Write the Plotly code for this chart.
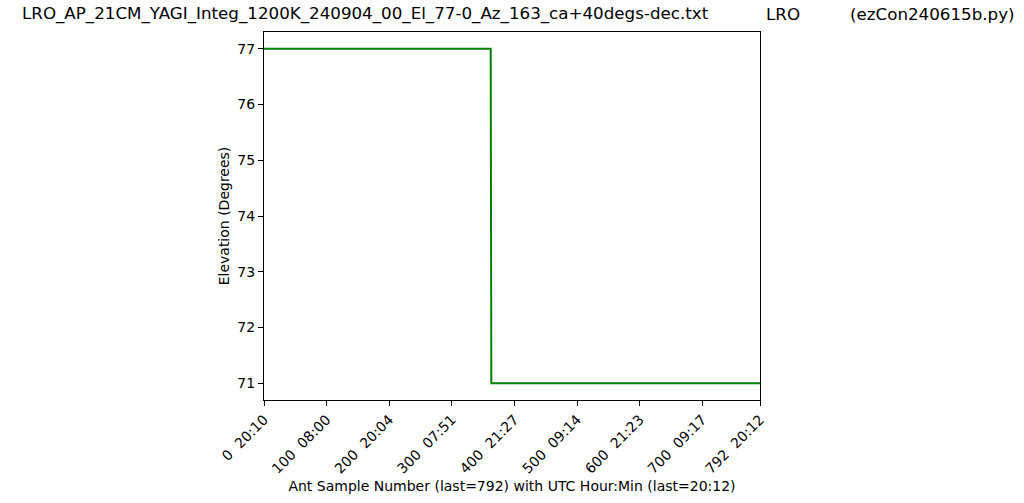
import plotly.graph_objects as go

# Data
sample_x = [0, 362, 363, 792]
elevation = [77, 77, 71, 71]
tick_vals = [0, 100, 200, 300, 400, 500, 600, 700, 792]
tick_text = ["0  20:10", "100  08:00", "200  20:04", "300  07:51", "400  21:27",
             "500  09:14", "600  21:23", "700  09:17", "792  20:12"]
y_ticks = [71, 72, 73, 74, 75, 76, 77]

title_file = "LRO_AP_21CM_YAGI_Integ_1200K_240904_00_El_77-0_Az_163_ca+40degs-dec.txt"
title_site = "LRO"
title_prog = "(ezCon240615b.py)"

font = "DejaVu Sans"

fig = go.Figure()
fig.add_trace(go.Scatter(x=sample_x, y=elevation, mode="lines",
                         line=dict(color="green", width=2), showlegend=False))

fig.update_layout(
    width=1024, height=503,
    margin=dict(l=264, r=264, t=32, b=103),
    paper_bgcolor="white", plot_bgcolor="white",
    font=dict(family=font, size=14, color="black"),
    xaxis=dict(range=[0, 792], tickvals=tick_vals, ticktext=tick_text,
               tickangle=-45, showgrid=False, zeroline=False, automargin=False,
               showline=True, linecolor="black", linewidth=1, mirror=True,
               ticks="outside", ticklen=5, tickcolor="black",
               title=dict(text="Ant Sample Number (last=792) with UTC Hour:Min (last=20:12)",
                          font=dict(size=14), standoff=5),
               tickfont=dict(size=14)),
    yaxis=dict(range=[70.7, 77.3], tickvals=y_ticks, showgrid=False, zeroline=False,
               automargin=False,
               showline=True, linecolor="black", linewidth=1, mirror=True,
               ticks="outside", ticklen=5, tickcolor="black",
               title=dict(text="Elevation (Degrees)", font=dict(size=14), standoff=4),
               tickfont=dict(size=14)),
)

fig.add_annotation(text=title_file, xref="paper", yref="paper", x=(20-264)/496, y=1,
                   yshift=6, xanchor="left", yanchor="bottom", showarrow=False,
                   font=dict(size=16.7, family=font))
fig.add_annotation(text=title_site, xref="paper", yref="paper", x=(764-264)/496, y=1,
                   yshift=6, xanchor="left", yanchor="bottom", showarrow=False,
                   font=dict(size=16.7, family=font))
fig.add_annotation(text=title_prog, xref="paper", yref="paper", x=(1017-264)/496, y=1,
                   yshift=6, xanchor="right", yanchor="bottom", showarrow=False,
                   font=dict(size=16.7, family=font))

fig.write_html("out.html", config={"displayModeBar": False},
               post_script="document.body.style.margin='0';")
